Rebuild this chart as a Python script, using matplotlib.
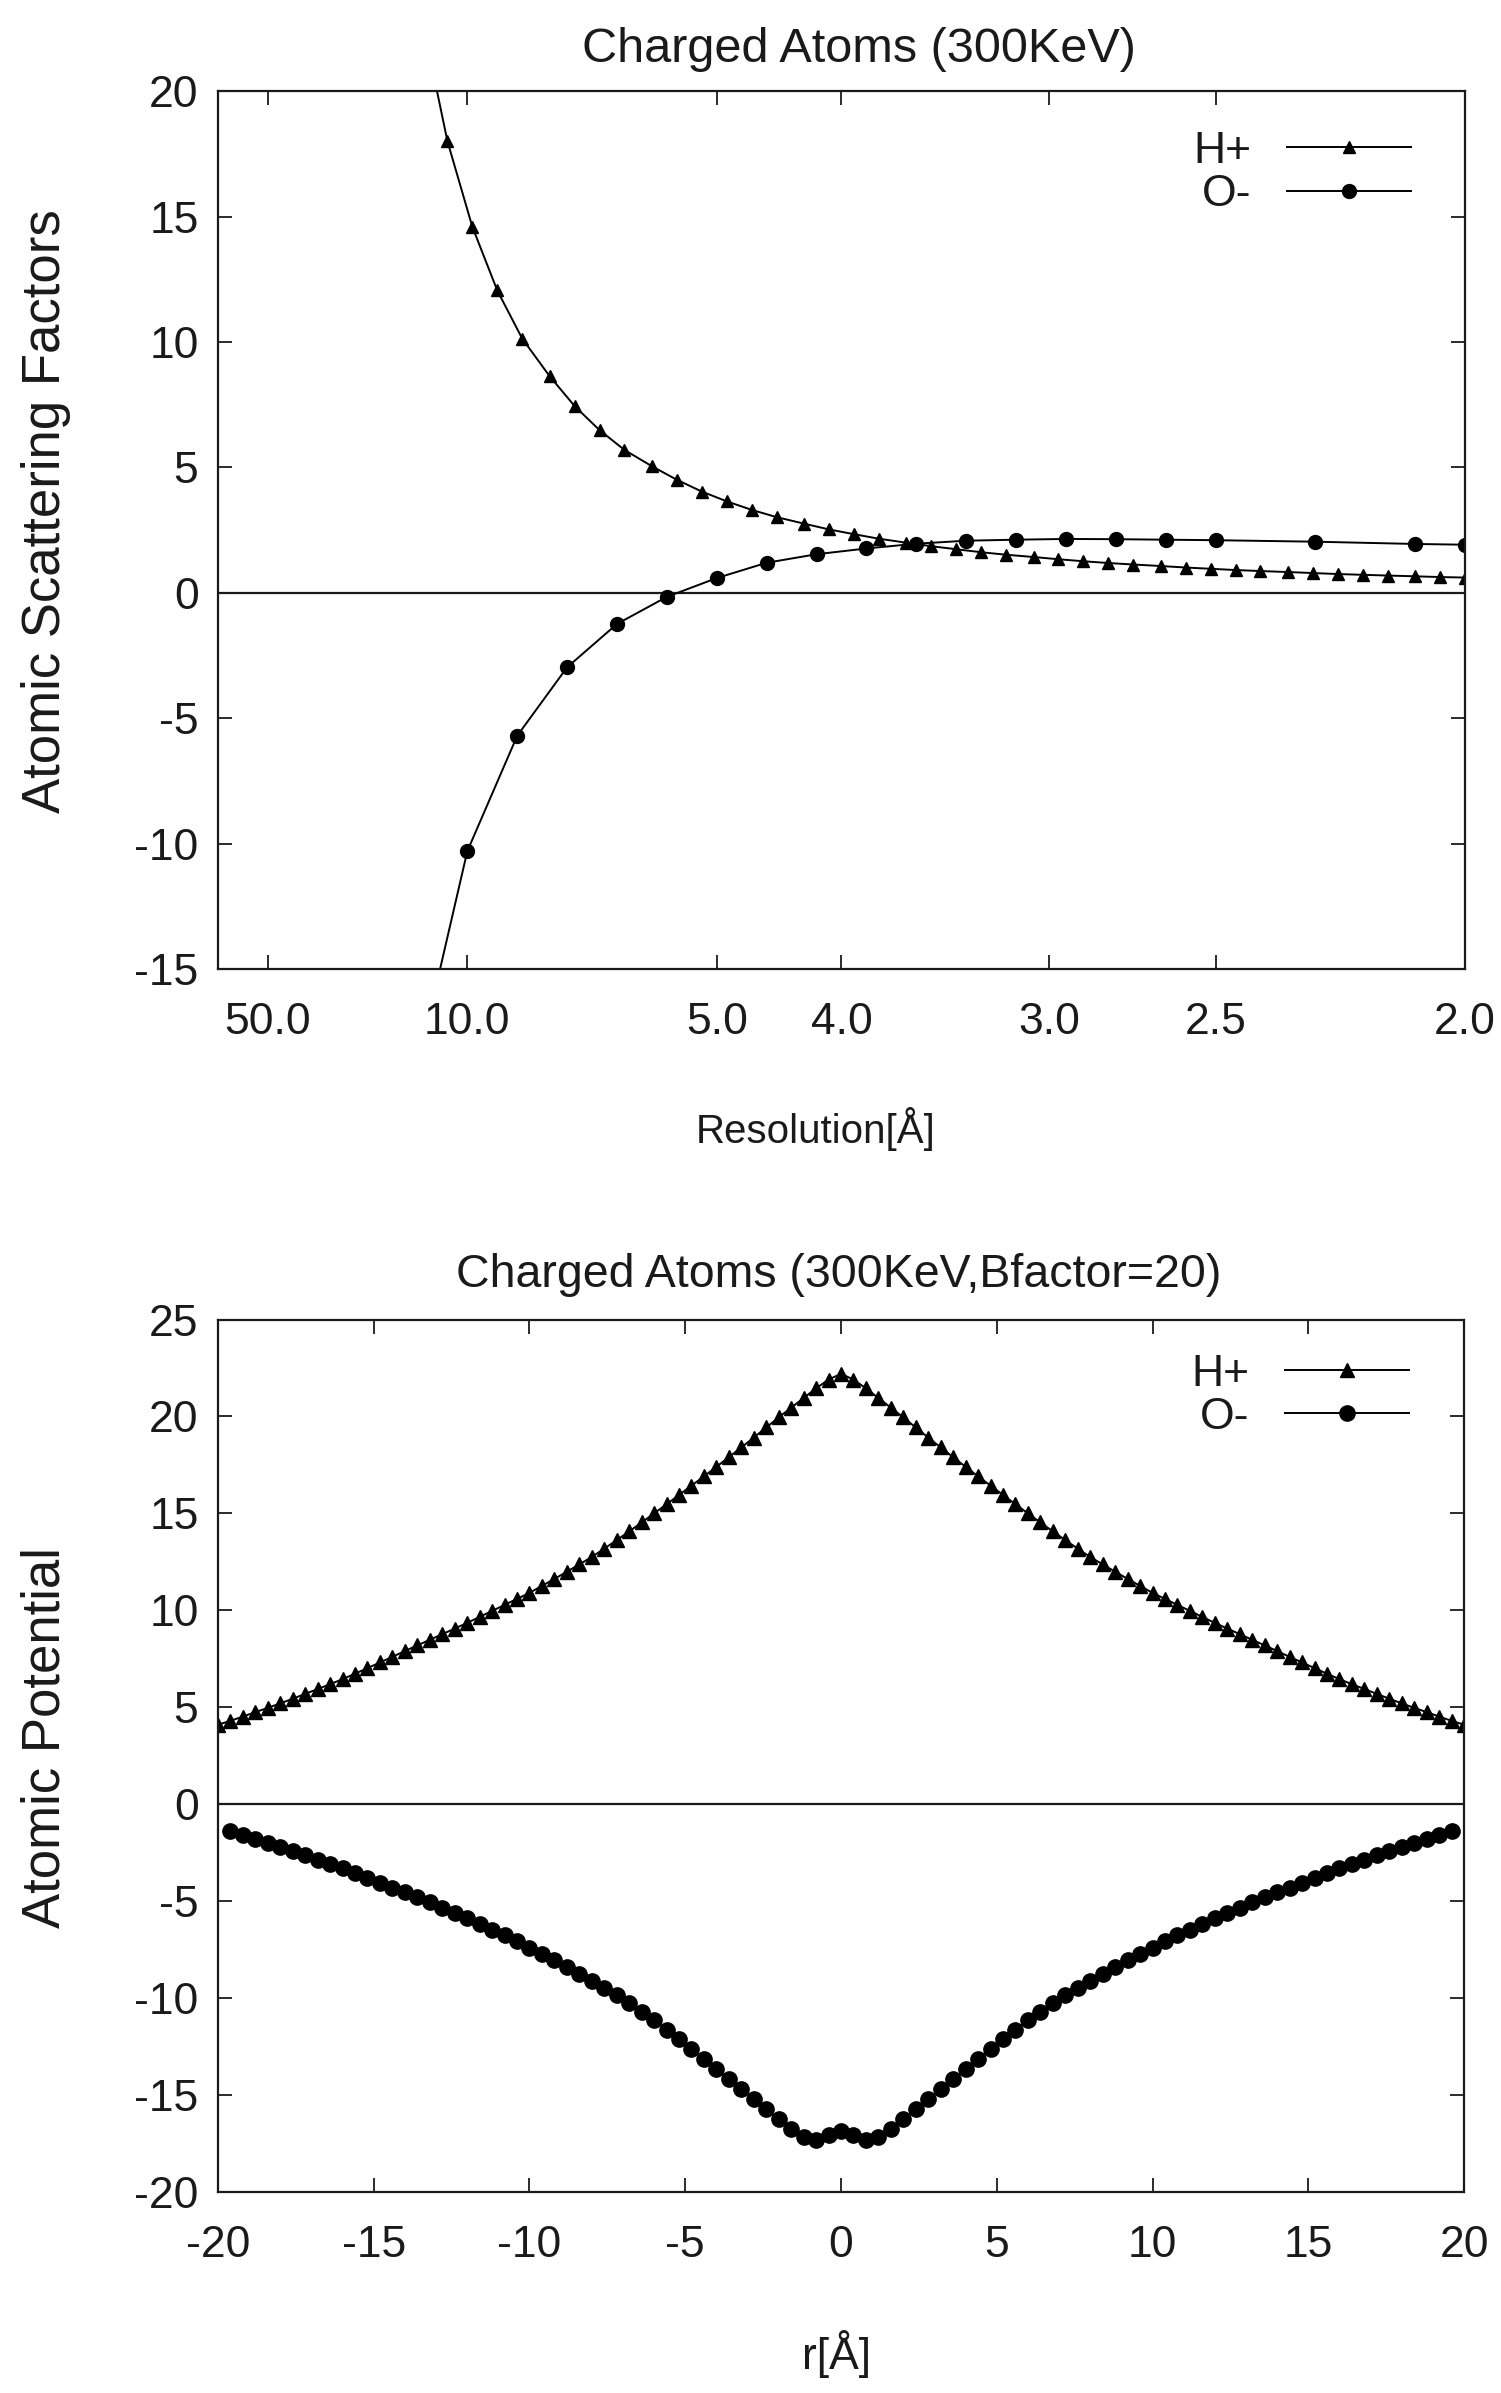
import numpy as np
import matplotlib
matplotlib.use("Agg")
import matplotlib.pyplot as plt

plt.rcParams['font.family'] = ['Liberation Sans', 'DejaVu Sans']
plt.rcParams['axes.unicode_minus'] = False

# --- top panel: scattering factors vs spatial frequency s = 1/d ---
res_ticks = [0.02, 0.1, 0.2, 0.25, 1 / 3.0, 0.4, 0.5]
res_labels = ["50.0", "10.0", "5.0", "4.0", "3.0", "2.5", "2.0"]

s_h = [0.082, 0.092, 0.102, 0.112, 0.122, 0.133, 0.143, 0.153, 0.163, 0.174,
       0.184, 0.194, 0.204, 0.214, 0.224, 0.235, 0.245, 0.255, 0.265, 0.276,
       0.286, 0.296, 0.306, 0.316, 0.327, 0.337, 0.347, 0.357, 0.367, 0.378,
       0.388, 0.398, 0.408, 0.418, 0.429, 0.439, 0.449, 0.459, 0.469, 0.480,
       0.490, 0.500]
f_h = [22.8, 18.02, 14.60, 12.06, 10.14, 8.64, 7.45, 6.49, 5.70, 5.05,
       4.51, 4.04, 3.65, 3.31, 3.02, 2.76, 2.53, 2.34, 2.16, 2.00,
       1.86, 1.74, 1.62, 1.52, 1.43, 1.34, 1.26, 1.19, 1.13, 1.07,
       1.01, 0.96, 0.91, 0.87, 0.83, 0.79, 0.75, 0.72, 0.69, 0.66,
       0.63, 0.61]

s_o = [0.08, 0.10, 0.12, 0.14, 0.16, 0.18, 0.20, 0.22, 0.24, 0.26,
       0.28, 0.30, 0.32, 0.34, 0.36, 0.38, 0.40, 0.44, 0.48, 0.50]
f_o = [-18.9, -10.3, -5.7, -2.97, -1.24, -0.16, 0.59, 1.20, 1.54, 1.77,
       1.96, 2.08, 2.12, 2.15, 2.14, 2.12, 2.10, 2.04, 1.95, 1.92]

# --- bottom panel: atomic potential vs r ---
r_h = np.linspace(-20, 20, 101)
v_h = [4.10, 4.30, 4.52, 4.75, 4.97, 5.20, 5.44, 5.69, 5.94, 6.19,
       6.45, 6.73, 7.02, 7.31, 7.60, 7.90, 8.19, 8.48, 8.77, 9.06,
       9.35, 9.66, 9.97, 10.28, 10.59, 10.90, 11.26, 11.62, 11.99, 12.37,
       12.75, 13.18, 13.62, 14.07, 14.53, 15.00, 15.47, 15.95, 16.43, 16.91,
       17.40, 17.90, 18.40, 18.91, 19.43, 19.95, 20.45, 20.95, 21.45, 21.90,
       22.20,
       21.90, 21.45, 20.95, 20.45, 19.95, 19.43, 18.91, 18.40, 17.90, 17.40,
       16.91, 16.43, 15.95, 15.47, 15.00, 14.53, 14.07, 13.62, 13.18, 12.75,
       12.37, 11.99, 11.62, 11.26, 10.90, 10.59, 10.28, 9.97, 9.66, 9.35,
       9.06, 8.77, 8.48, 8.19, 7.90, 7.60, 7.31, 7.02, 6.73, 6.45,
       6.19, 5.94, 5.69, 5.44, 5.20, 4.97, 4.75, 4.52, 4.30, 4.10]

r_o = np.linspace(-19.6, 19.6, 99)
v_o = [-1.40, -1.58, -1.78, -1.98, -2.20, -2.42, -2.64, -2.86, -3.08, -3.30,
       -3.55, -3.80, -4.05, -4.30, -4.55, -4.80, -5.06, -5.33, -5.60, -5.88,
       -6.17, -6.47, -6.77, -7.08, -7.40, -7.72, -8.05, -8.39, -8.74, -9.10,
       -9.47, -9.86, -10.27, -10.70, -11.15, -11.62, -12.10, -12.62, -13.14, -13.66,
       -14.18, -14.70, -15.22, -15.74, -16.25, -16.75, -17.15, -17.30, -17.05,
       -16.85,
       -17.05, -17.30, -17.15, -16.75, -16.25, -15.74, -15.22, -14.70, -14.18,
       -13.66, -13.14, -12.62, -12.10, -11.62, -11.15, -10.70, -10.27, -9.86, -9.47,
       -9.10, -8.74, -8.39, -8.05, -7.72, -7.40, -7.08, -6.77, -6.47, -6.17,
       -5.88, -5.60, -5.33, -5.06, -4.80, -4.55, -4.30, -4.05, -3.80, -3.55,
       -3.30, -3.08, -2.86, -2.64, -2.42, -2.20, -1.98, -1.78, -1.58, -1.40]

FS = 32
INK = '#1a1a1a'


def style_axes(ax):
    ax.tick_params(direction='in', length=10, width=1.3, top=True, right=True,
                   labelsize=FS, colors=INK)
    ax.tick_params(axis='x', pad=24)
    ax.tick_params(axis='y', pad=14)
    for sp in ax.spines.values():
        sp.set_linewidth(1.6)
        sp.set_color(INK)
    ax.axhline(0, color=INK, lw=1.6, zorder=1)


def add_legend(ax, anchor):
    ax.legend(loc='upper right', bbox_to_anchor=anchor, frameon=False,
              markerfirst=False, fontsize=FS, handlelength=2.8,
              labelspacing=0.05, borderaxespad=0, borderpad=0,
              handletextpad=0.8, labelcolor=INK)


fig = plt.figure(figsize=(15.01, 23.93), dpi=100)

ax1 = fig.add_axes([0.1452, 0.5951, 0.8308, 0.3667])
ax1.plot(s_h, f_h, color='black', lw=1.4, marker='^', ms=9, label='H+')
ax1.plot(s_o, f_o, color='black', lw=1.4, marker='o', ms=10, label='O-')
ax1.set_xlim(0, 0.5)
ax1.set_ylim(-15, 20)
ax1.set_xticks(res_ticks)
ax1.set_xticklabels(res_labels)
ax1.set_yticks(np.arange(-15, 21, 5))
style_axes(ax1)
add_legend(ax1, (0.957, 0.955))

ax2 = fig.add_axes([0.1452, 0.0840, 0.8302, 0.3646])
ax2.plot(r_h, v_h, color='black', lw=1.4, marker='^', ms=10.5, label='H+')
ax2.plot(r_o, v_o, color='black', lw=1.4, marker='o', ms=11, label='O-')
ax2.set_xlim(-20, 20)
ax2.set_ylim(-20, 25)
ax2.set_xticks(np.arange(-20, 21, 5))
ax2.set_yticks(np.arange(-20, 26, 5))
style_axes(ax2)
add_legend(ax2, (0.956, 0.961))

fig.text(0.572, 0.9795, 'Charged Atoms (300KeV)', ha='center', va='center',
         fontsize=35, color=INK)
fig.text(0.559, 0.4672, 'Charged Atoms (300KeV,Bfactor=20)', ha='center',
         va='center', fontsize=33.5, color=INK)
fig.text(0.5437, 0.5282, 'Resolution[Å]', ha='center', va='center',
         fontsize=29, color=INK)
fig.text(0.557, 0.0163, 'r[Å]', ha='center', va='center', fontsize=FS,
         color=INK)
fig.text(0.0306, 0.7865, 'Atomic Scattering Factors', ha='center',
         va='center', rotation=90, fontsize=38, color=INK)
fig.text(0.0306, 0.274, 'Atomic Potential', ha='center', va='center',
         rotation=90, fontsize=38, color=INK)

fig.savefig('out.png', dpi=100)
